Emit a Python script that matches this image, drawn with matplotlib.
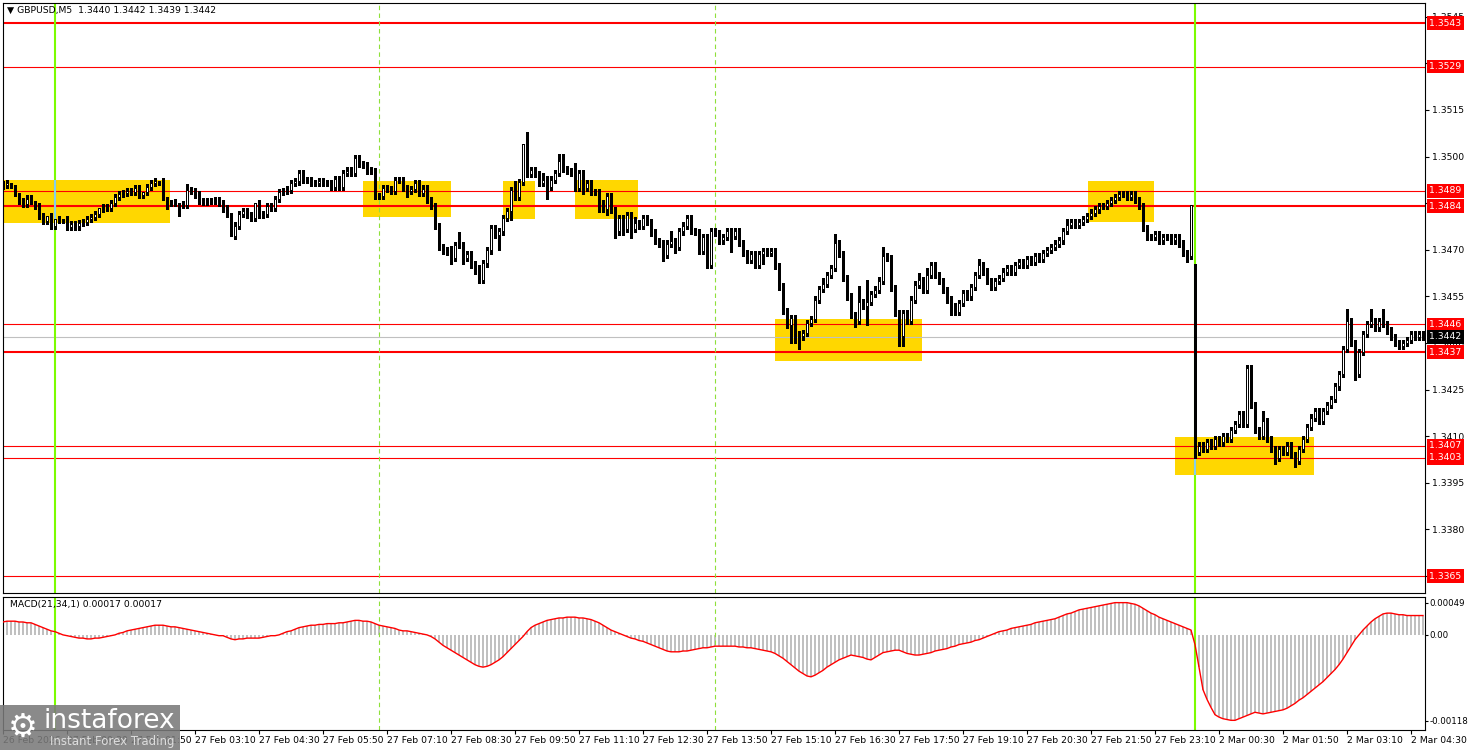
import numpy as np
import pandas as pd
import matplotlib
matplotlib.use("Agg")
import matplotlib.pyplot as plt
from matplotlib.patches import Rectangle

plt.rcParams["font.family"] = ["DejaVu Sans"]

symbol_header = "\u25BC GBPUSD,M5  1.3440 1.3442 1.3439 1.3442"
macd_header = "MACD(21,34,1) 0.00017 0.00017"

# 5-minute closes, in pips above 1.3400 (26 Feb 23:10 .. 2 Mar 04:45)
close_pips = [
    91.0, 91.5, 89.8, 88.3, 85.8, 84.8, 86.5, 85.8, 84.1, 80.9,
    79.4, 80.9, 77.8, 79.8, 79.5, 79.8, 77.4, 78.2, 77.5, 78.7,
    79.0, 80.0, 80.5, 81.5, 83.3, 83.7, 83.5, 85.0, 86.9, 88.0,
    88.2, 88.9, 88.5, 90.0, 87.6, 88.5, 90.2, 91.4, 92.0, 92.0,
    86.9, 85.0, 85.0, 85.2, 84.8, 84.5, 89.2, 89.0, 87.8, 85.6,
    85.3, 85.6, 85.8, 86.1, 85.0, 83.3, 81.7, 74.4, 77.8, 81.5,
    82.5, 81.2, 80.3, 85.0, 81.2, 81.5, 84.0, 83.6, 86.4, 88.6,
    88.9, 89.4, 91.6, 92.0, 94.7, 92.5, 92.5, 91.6, 91.4, 92.0,
    91.4, 91.6, 90.1, 92.7, 90.1, 94.7, 95.5, 94.7, 99.5, 97.5,
    97.2, 95.5, 95.3, 87.3, 87.3, 90.0, 89.5, 89.0, 92.5, 92.5,
    89.8, 89.0, 89.5, 91.6, 88.3, 89.7, 86.1, 84.2, 77.7, 70.8,
    69.8, 69.2, 67.5, 71.6, 71.5, 67.5, 68.7, 65.3, 64.2, 60.3,
    65.6, 69.8, 77.0, 74.8, 75.9, 80.3, 82.6, 89.2, 87.0, 91.7,
    104.0, 94.4, 95.6, 94.4, 91.4, 92.6, 90.3, 92.6, 94.8, 98.7,
    95.9, 95.3, 94.8, 89.8, 94.8, 89.8, 91.4, 88.7, 88.7, 85.1,
    83.1, 87.3, 82.9, 75.9, 80.3, 76.7, 81.1, 76.7, 78.5, 77.8,
    80.3, 79.0, 75.6, 72.9, 72.0, 68.4, 72.0, 72.9, 70.9, 75.9,
    77.8, 80.3, 76.0, 75.8, 69.7, 74.0, 65.0, 76.0, 75.5, 73.0,
    74.0, 76.0, 74.4, 76.0, 72.2, 69.0, 66.8, 68.7, 65.2, 68.5,
    69.7, 69.0, 69.5, 64.7, 58.2, 50.2, 45.9, 48.0, 43.0, 42.1,
    43.2, 46.4, 47.8, 54.0, 57.5, 59.0, 62.0, 64.1, 72.2, 68.7,
    60.9, 55.0, 48.9, 47.0, 53.2, 51.8, 53.2, 55.8, 57.2, 60.1,
    67.9, 67.4, 57.7, 49.6, 42.1, 49.6, 47.0, 54.0, 58.8, 60.4,
    57.2, 62.0, 65.0, 62.0, 60.0, 57.0, 54.0, 52.0, 50.0, 53.0,
    56.0, 55.0, 58.0, 62.0, 65.0, 63.0, 60.0, 58.0, 60.0, 61.0,
    63.0, 64.0, 63.0, 65.0, 66.0, 65.0, 67.0, 66.0, 68.0, 67.0,
    69.0, 70.0, 71.0, 72.0, 73.0, 76.0, 78.0, 79.0, 78.0, 79.0,
    80.0, 81.0, 82.0, 83.0, 84.0, 84.0, 85.0, 86.0, 87.0, 88.0,
    88.0, 87.0, 88.0, 86.0, 84.0, 77.0, 74.0, 74.0, 75.0, 73.0,
    74.0, 74.0, 73.0, 74.0, 72.0, 69.0, 68.0, 84.5,
    5.0, 7.0, 6.0, 8.0, 7.0, 9.0, 8.0, 10.0, 9.0, 12.0,
    14.0, 17.0, 14.0, 32.0, 20.0, 12.0, 10.0, 15.0, 9.0, 6.0,
    3.0, 6.0, 5.0, 7.0, 4.0, 2.0, 6.0, 9.0, 13.0, 16.0,
    18.0, 15.0, 18.0, 20.0, 22.0, 26.0, 30.0, 38.0, 47.0, 40.0,
    30.0, 37.0, 43.0, 46.0, 47.0, 45.0, 47.0, 46.0, 44.0, 42.0,
    40.0, 39.0, 40.0, 41.0, 43.0, 42.0, 43.0, 42.0,
]
first_open_pips = 90.5
gap_opens = {298: 65.5}   # monday open after the weekend gap

# wick lengths in pips, one digit per bar
upper_wicks = (
    "1101011101 1010101111 1111011111 1111101110 1011012111 "
    "1111111011 1110111111 1111111111 1111111111 1111111111 "
    "1111111111 1121411111 1111111131 0411121112 2113111111 "
    "1111111121 1111111311 1111111111 1111111111 1111111111 "
    "1111121131 1111517111 3111111112 1211111111 1111211111 "
    "1111111111 1111112111 1111111111 1111111111 11111110 "
    "0111111111 1111111311 1111111111 1111111141 1111411411 11111111"
)
lower_wicks = (
    "1101111111 1111111111 1111111111 1111111111 1211411111 "
    "1111111011 1111111111 1111111111 1111111111 1111111111 "
    "1211111111 1121121121 1111511311 1111114111 1111121113 "
    "1212121311 1111121121 1111111111 1151111111 3111111634 "
    "1111111111 1112116111 1111331111 1111111311 1111111111 "
    "1111111111 1111111111 1111111111 1111111111 11111121 "
    "2111111111 1111111111 2111121111 1111111111 2111111111 11111111"
)

# MACD(21,34,1) histogram, units of 0.00001
macd_vals = [
    16, 17, 17, 17, 16, 16, 15, 15, 13, 11,
    9, 7, 5, 4, 2, 0, -1, -2, -3, -4,
    -4, -5, -5, -4, -4, -3, -2, -1, 0, 2,
    3, 5, 6, 7, 8, 9, 10, 11, 12, 12,
    12, 11, 10, 10, 9, 8, 7, 6, 5, 4,
    3, 2, 1, 0, -1, -1, -3, -5, -6, -5,
    -5, -4, -4, -4, -4, -3, -2, -1, -1, 0,
    2, 4, 5, 7, 9, 10, 11, 12, 12, 13,
    13, 14, 14, 14, 15, 15, 16, 17, 18, 18,
    17, 17, 16, 14, 12, 11, 10, 9, 8, 6,
    5, 5, 4, 3, 2, 1, 0, -2, -5, -9,
    -13, -16, -19, -22, -25, -28, -31, -34, -37, -39,
    -40, -39, -37, -34, -31, -27, -22, -17, -12, -7,
    -2, 4, 9, 12, 14, 16, 18, 19, 20, 21,
    21, 22, 22, 22, 21, 21, 20, 19, 17, 15,
    12, 9, 6, 4, 2, 0, -2, -4, -5, -7,
    -8, -10, -12, -14, -16, -18, -20, -21, -21, -21,
    -20, -20, -19, -18, -17, -16, -16, -15, -14, -14,
    -14, -14, -14, -14, -15, -15, -16, -16, -17, -18,
    -19, -20, -21, -23, -26, -29, -33, -37, -41, -45,
    -48, -51, -52, -50, -47, -44, -40, -37, -34, -31,
    -29, -27, -25, -26, -27, -28, -30, -31, -28, -25,
    -22, -21, -20, -19, -19, -21, -23, -24, -25, -25,
    -24, -23, -22, -20, -19, -18, -17, -15, -14, -12,
    -11, -10, -9, -7, -6, -4, -2, 0, 2, 4,
    5, 6, 8, 9, 10, 11, 12, 13, 15, 16,
    17, 18, 19, 20, 22, 24, 26, 27, 29, 31,
    32, 33, 34, 35, 36, 37, 38, 39, 40, 40,
    40, 40, 39, 38, 36, 33, 30, 27, 25, 22,
    20, 18, 16, 14, 12, 10, 8, 6,
    -12, -40, -68, -80, -90, -99, -102, -104, -105, -106,
    -106, -104, -102, -100, -98, -96, -97, -98, -97, -96,
    -95, -94, -93, -91, -88, -85, -81, -78, -74, -70,
    -66, -62, -58, -53, -48, -43, -37, -30, -22, -14,
    -6, 0, 6, 11, 16, 20, 23, 26, 27, 27,
    26, 25, 25, 24, 24, 24, 24, 24,
]

levels = [1.3543, 1.3529, 1.3489, 1.3484, 1.3446, 1.3437, 1.3407, 1.3403, 1.3365]
level_thick = [True, False, False, True, False, True, False, False, False]
current_price = 1.3442

# yellow zones: bar index range and price range
zone_start = [-0.5, 90, 125, 143, 193, 271.25, 293]
zone_end = [41.75, 112, 133, 158.75, 229.75, 287.75, 327.75]
zone_low = [1.34786, 1.34806, 1.34799, 1.34799, 1.34342, 1.34790, 1.33975]
zone_high = [1.34925, 1.34921, 1.34921, 1.34925, 1.34477, 1.34921, 1.34098]

green_times = ["2026-02-27 00:15", "2026-03-02 00:00"]
dashed_times = ["2026-02-27 07:00", "2026-02-27 14:00"]

times = pd.date_range("2026-02-26 23:10", "2026-02-27 23:55", freq="5min").append(
    pd.date_range("2026-03-02 00:00", "2026-03-02 04:45", freq="5min"))
n = len(times)
idx = np.arange(n)

closes = 1.34 + np.array(close_pips) / 1e4
opens = np.empty(n)
opens[0] = 1.34 + first_open_pips / 1e4
opens[1:] = closes[:-1]
for k, v in gap_opens.items():
    opens[k] = 1.34 + v / 1e4
up = np.array([int(c) for c in upper_wicks if c.isdigit()])
dn = np.array([int(c) for c in lower_wicks if c.isdigit()])
highs = np.maximum(opens, closes) + up / 1e4
lows = np.minimum(opens, closes) - dn / 1e4
macd = np.array(macd_vals) * 1e-5

W, H = 1468, 750
FS = 6.7
fig = plt.figure(figsize=(W / 100, H / 100), dpi=100)
ax = fig.add_axes([3 / W, 1 - 593 / H, 1422 / W, 590 / H])
ax2 = fig.add_axes([3 / W, 1 - 730 / H, 1422 / W, 133 / H], sharex=ax)

# zones
for s, e, lo, hi in zip(zone_start, zone_end, zone_low, zone_high):
    ax.add_patch(Rectangle((s, lo), e - s, hi - lo, fc="#FFD700", ec="none", zorder=1))

# levels
for lv, thick in zip(levels, level_thick):
    ax.axhline(lv, color="#FF0000", lw=1.5 if thick else 0.8, zorder=2)
ax.axhline(current_price, color="#C0C0C0", lw=0.8, zorder=1.5)

# vertical markers
for t in green_times:
    i = times.get_loc(pd.Timestamp(t))
    for a in (ax, ax2):
        a.axvline(i, color="#7CFC00", lw=1.5, zorder=2.5)
    for s, e, lo, hi in zip(zone_start, zone_end, zone_low, zone_high):
        if s <= i <= e:
            ax.vlines(i, lo, hi, color="#87CEEB", lw=1.5, zorder=2.6)
for t in dashed_times:
    i = times.get_loc(pd.Timestamp(t))
    for a in (ax, ax2):
        a.axvline(i, color="#8FE03A", lw=0.8, ls=(0, (4, 3)), zorder=2.5)

# candles
ax.vlines(idx, lows, highs, color="black", lw=0.8, zorder=3, antialiased=False)
bull = closes >= opens
face = np.where(bull, "white", "black")
ax.bar(idx, closes - opens, bottom=opens, width=0.7, color=face, edgecolor="black",
       linewidth=0.7, zorder=4, antialiased=False)

ax.set_xlim(0, 355.5)
ax.set_ylim(1.335953, 1.354944)
ax.yaxis.tick_right()
ticks = [1.3365 + 0.0015 * k for k in range(13)]
ax.set_yticks(ticks)
ax.set_yticklabels([f"{t:.4f}" for t in ticks])
ax.tick_params(axis="y", direction="out", length=3, pad=2, labelsize=FS, width=0.8)
ax.tick_params(axis="x", bottom=False, labelbottom=False)

for lv in levels:
    ax.annotate(f"{lv:.4f}", xy=(1, lv), xycoords=ax.get_yaxis_transform(),
                xytext=(3, 0), textcoords="offset points", va="center", ha="left",
                color="white", fontsize=FS, annotation_clip=False, zorder=6,
                bbox=dict(boxstyle="square,pad=0.25", fc="#FF0000", ec="none"))
ax.annotate(f"{current_price:.4f}", xy=(1, current_price), xycoords=ax.get_yaxis_transform(),
            xytext=(3, 0), textcoords="offset points", va="center", ha="left",
            color="white", fontsize=FS, annotation_clip=False, zorder=7,
            bbox=dict(boxstyle="square,pad=0.25", fc="black", ec="none"))

# MACD panel
ax2.bar(idx, macd, width=0.5, color="#C0C0C0", zorder=2)
ax2.plot(idx, macd, color="#FF0000", lw=1, zorder=3)
ax2.set_ylim(-0.00118, 0.00047)
ax2.yaxis.tick_right()
ax2.set_yticks([0.000396, 0, -0.001068])
ax2.set_yticklabels(["0.00049", "0.00", "-0.00118"])
ax2.tick_params(axis="y", direction="out", length=2, pad=1, labelsize=6.2, width=0.8)

tick_pos = list(range(0, n, 16))
tick_lab = []
for i in tick_pos:
    t = times[i]
    if i == 0:
        tick_lab.append(f"{t.day} {t.strftime('%b %Y')}")
    else:
        tick_lab.append(f"{t.day} {t.strftime('%b %H:%M')}")
ax2.set_xticks(tick_pos)
ax2.set_xticklabels(tick_lab, ha="left")
ax2.tick_params(axis="x", direction="out", length=3, pad=1, labelsize=FS, width=0.8)

for a in (ax, ax2):
    for sp in a.spines.values():
        sp.set_color("black")
        sp.set_linewidth(0.8)

fig.text(7 / W, 1 - 10 / H, symbol_header, fontsize=FS, va="center")
ax2.text(7 / 1422, 1 - 7 / 133, macd_header, transform=ax2.transAxes, fontsize=FS,
         va="center", ha="left")

# logo
fig.add_artist(Rectangle((0, 0), 180 / W, 45 / H, transform=fig.transFigure,
                         fc="#7a7a7a", ec="none", alpha=0.88, zorder=10))
fig.text(8 / W, 1 - 727 / H, "\u2699", fontsize=24, color="white", va="center", zorder=11)
fig.text(44 / W, 1 - 721 / H, "instaforex", fontsize=19, color="white", va="center", zorder=11)
fig.text(50 / W, 1 - 741 / H, "Instant Forex Trading", fontsize=8.5, color="#dddddd",
         va="center", zorder=11)

fig.savefig("out.png", dpi=100)
